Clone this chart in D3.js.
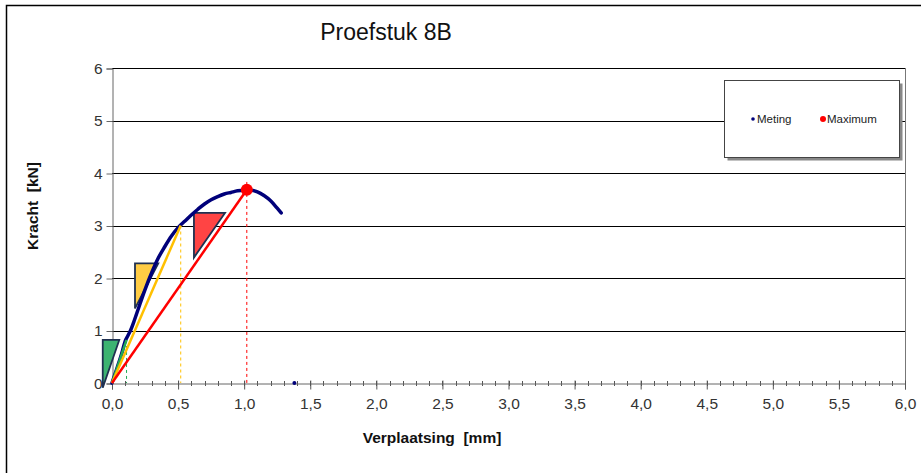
<!DOCTYPE html>
<html>
<head>
<meta charset="utf-8">
<script src="https://cdn.jsdelivr.net/npm/d3@7"></script>
<style>
body { margin:0; background:#fff; }
text { font-family: "Liberation Sans", Arial, sans-serif; }
</style>
</head>
<body>
<svg id="chart"></svg>
<script>
// meting (verplaatsing mm, kracht kN)
var metingX = [0,0.02,0.04,0.06,0.08,0.10,0.12,0.14,0.17,0.20,0.25,0.30,0.35,0.40,0.45,0.50,0.55,0.60,0.65,0.70,0.75,0.80,0.85,0.90,0.95,1.00,1.05,1.10,1.15,1.20,1.25,1.28]
var metingY = [0,0.15,0.3,0.45,0.62,0.8,0.9,1.0,1.2,1.42,1.78,2.1,2.38,2.6,2.8,2.96,3.08,3.2,3.31,3.41,3.49,3.55,3.6,3.63,3.66,3.67,3.67,3.64,3.57,3.47,3.33,3.24]
var strayX = [1.38], strayY = [0]
var maxX = 1.02, maxY = 3.68
// secant lines: end points
var lijnX = [0.11, 0.52, 1.02]
var lijnY = [0.82, 3.0, 3.68]
var lijnKleur = ["#22aa55", "#ffc000", "#ff0000"]
// slope triangles: [x left, x right, y top, y bottom]
var driehoekX1 = [-0.07, 0.174, 0.62]
var driehoekX2 = [0.055, 0.35, 0.855]
var driehoekYtop = [0.82, 2.28, 3.24]
var driehoekYbot = [-0.09, 1.42, 2.39]
var driehoekKleur = ["#3cb371", "#ffcc44", "#ff4444"]
var yTicks = [0,1,2,3,4,5,6]
var xMajor = [0,0.5,1,1.5,2,2.5,3,3.5,4,4.5,5,5.5,6]
var legendLabels = ["Meting", "Maximum"]

var screen = {width:921, height:473}
var svg = d3.select("#chart").attr("width", screen.width).attr("height", screen.height)

var xScale = d3.scaleLinear().domain([0,6]).range([112,905])
var yScale = d3.scaleLinear().domain([0,6]).range([383,68])

// outer frame
svg.append("path").attr("d","M6.5,473 L6.5,5.5 L921,5.5").attr("fill","none").attr("stroke","#000").attr("stroke-width",1.5)

svg.append("text").text("Proefstuk 8B")
    .attr("x",386).attr("y",40).attr("text-anchor","middle")
    .attr("font-size",23).attr("fill","#111")

// grid lines
svg.append("g").selectAll("line").data(yTicks.filter(function(d){return d>0}))
    .enter().append("line")
    .attr("x1",xScale(0)).attr("x2",xScale(6))
    .attr("y1",function(d){return Math.round(yScale(d))+0.5})
    .attr("y2",function(d){return Math.round(yScale(d))+0.5})
    .attr("stroke","#000").attr("stroke-width",1)

// right border
svg.append("line").attr("x1",xScale(6)+0.5).attr("x2",xScale(6)+0.5)
    .attr("y1",yScale(6)).attr("y2",yScale(0)).attr("stroke","#777")

// y axis
var yAxis = d3.axisLeft(yScale).tickValues(yTicks).tickSize(6).tickFormat(d3.format("d"))
var gy = svg.append("g").attr("transform","translate("+(xScale(0)+0.5)+",0.5)").call(yAxis)
gy.attr("font-size",null).attr("font-family",null)
gy.select(".domain").attr("stroke","#666")
gy.selectAll(".tick line").attr("stroke","#666")
gy.selectAll(".tick text").style("font-size","15.5px").attr("fill","#333").attr("x",-10)

// x axis minor ticks
var xMinor = d3.range(0,60.5,1).map(function(d){return d/10})
svg.append("g").selectAll("line").data(xMinor).enter().append("line")
    .attr("x1",function(d){return Math.round(xScale(d))+0.5})
    .attr("x2",function(d){return Math.round(xScale(d))+0.5})
    .attr("y1",yScale(0)-2).attr("y2",yScale(0)+3)
    .attr("stroke","#555")
var xAxis = d3.axisBottom(xScale).tickValues(xMajor).tickSize(6)
    .tickFormat(function(d){return d3.format(".1f")(d).replace(".",",")})
var gx = svg.append("g").attr("transform","translate(0,"+(yScale(0)+0.5)+")").call(xAxis)
gx.attr("font-size",null).attr("font-family",null)
gx.select(".domain").attr("stroke","#666")
gx.selectAll(".tick line").attr("stroke","#555").attr("y1",-3)
gx.selectAll(".tick text").style("font-size","15.5px").attr("fill","#333").attr("y",10).attr("dy","1em")

// axis titles
svg.append("text").text("Verplaatsing  [mm]").attr("x",432).attr("y",443)
    .attr("text-anchor","middle").attr("font-size",15.5).attr("font-weight","bold").attr("fill","#111")
    .style("white-space","pre")
svg.append("g").attr("transform","translate(38,206)").append("text")
    .text("Kracht  [kN]").attr("transform","rotate(-90)")
    .attr("text-anchor","middle").attr("font-size",15.5).attr("font-weight","bold").attr("fill","#111")
    .style("white-space","pre")

// triangles
svg.append("g").selectAll("path").data(driehoekX1).enter().append("path")
    .attr("d",function(d,i){
        return "M"+xScale(driehoekX1[i])+","+yScale(driehoekYbot[i])+
            "L"+xScale(driehoekX1[i])+","+yScale(driehoekYtop[i])+
            "L"+xScale(driehoekX2[i])+","+yScale(driehoekYtop[i])+"Z"})
    .attr("fill",function(d,i){return driehoekKleur[i]})
    .attr("stroke","#1f3050").attr("stroke-width",1.8).attr("stroke-linejoin","miter")

// dashed verticals
svg.append("g").selectAll("line").data(lijnX).enter().append("line")
    .attr("x1",function(d){return xScale(d)}).attr("x2",function(d){return xScale(d)})
    .attr("y1",function(d,i){return yScale(lijnY[i]+(i==2?0.15:0))}).attr("y2",yScale(0))
    .attr("stroke",function(d,i){return lijnKleur[i]}).attr("stroke-width",1).attr("stroke-dasharray","3,3")

// meting curve
var meting = metingX.map(function(d,i){return {x:d, y:metingY[i]}})
var lineGen = d3.line().x(function(d){return xScale(d.x)}).y(function(d){return yScale(d.y)}).curve(d3.curveMonotoneX)
svg.append("path").datum(meting).attr("d",lineGen)
    .attr("fill","none").attr("stroke","#00007a").attr("stroke-width",3.5).attr("stroke-linecap","round")
svg.append("g").selectAll("circle").data(strayX).enter().append("circle")
    .attr("cx",function(d){return xScale(d)}).attr("cy",function(d,i){return yScale(strayY[i])})
    .attr("r",2).attr("fill","#00007a")

// secant lines
svg.append("g").selectAll("line").data(lijnX).enter().append("line")
    .attr("x1",xScale(0)).attr("y1",yScale(0))
    .attr("x2",function(d){return xScale(d)}).attr("y2",function(d,i){return yScale(lijnY[i])})
    .attr("stroke",function(d,i){return lijnKleur[i]}).attr("stroke-width",2.5)

// maximum
svg.append("circle").attr("cx",xScale(maxX)).attr("cy",yScale(maxY)).attr("r",6).attr("fill","#ff0000")

// legend
var lg = svg.append("g")
lg.append("rect").attr("x",727.5).attr("y",83.5).attr("width",175).attr("height",77).attr("fill","#888")
lg.append("rect").attr("x",724.5).attr("y",80.5).attr("width",175).attr("height",77).attr("fill","#fff").attr("stroke","#444")
var legendKleur = ["#00007a","#ff0000"]
var legendX = [753, 823]
var legendR = [1.8, 3]
legendLabels.forEach(function(l,i){
    lg.append("circle").attr("cx",legendX[i]).attr("cy",119).attr("r",legendR[i]).attr("fill",legendKleur[i])
    lg.append("text").text(l).attr("x",legendX[i]+4).attr("y",123).attr("font-size",11.5).attr("fill","#222")
})
</script>
</body>
</html>
